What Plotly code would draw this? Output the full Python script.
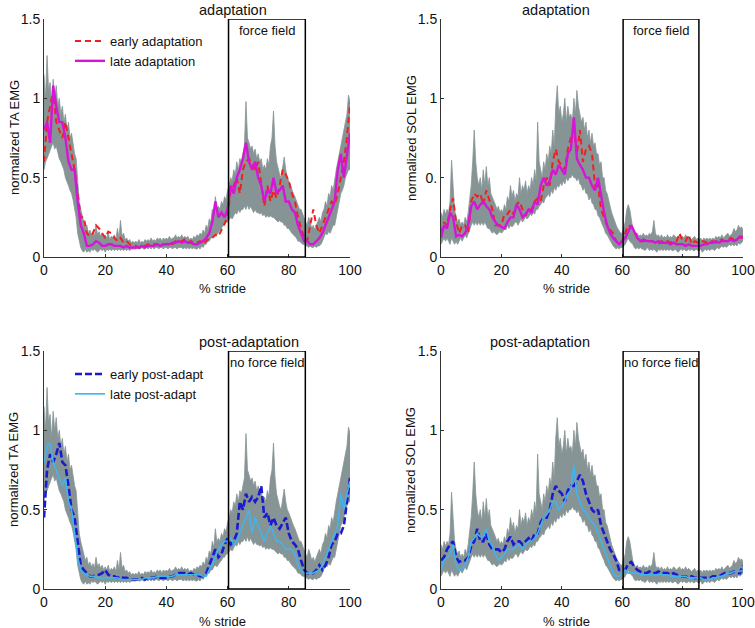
import plotly.graph_objects as go

# ---------------- data ----------------
STRIDE = list(range(0, 101))
STRIDE_FINE = [i / 2 for i in range(201)]

X_TICKS = [0, 20, 40, 60, 80, 100]
Y_TICKS = [0, 0.5, 1, 1.5]
Y_TICKTEXT_LEFT = ["0", "0.5", "1", "1.5"]
Y_TICKTEXT_SOL_ADAPT = ["0", "0.", "1", "1.5"]
Y_TICKTEXT_SOL_POST = ["0", "0.5", "1", "1.5"]

FIELD_START = 60.3
FIELD_END = 85.4

# baseline range (gray band), TA
TA_BAND_UPPER = [
    1.15, 1.0, 1.27, 1.05, 1.1, 0.95, 1.12, 1.0, 1.08, 0.95,
    1.0, 0.9, 0.95, 0.85, 0.9, 0.8, 0.85, 0.75, 0.78, 0.7,
    0.65, 0.62, 0.45, 0.35, 0.3, 0.25, 0.22, 0.18, 0.2, 0.15,
    0.17, 0.14, 0.16, 0.13, 0.2, 0.14, 0.16, 0.13, 0.15, 0.12,
    0.14, 0.12, 0.15, 0.11, 0.13, 0.12, 0.14, 0.11, 0.18, 0.12,
    0.23, 0.13, 0.15, 0.11, 0.12, 0.1, 0.11, 0.09, 0.1, 0.09,
    0.1, 0.09, 0.11, 0.09, 0.1, 0.09, 0.11, 0.1, 0.11, 0.1,
    0.12, 0.1, 0.11, 0.1, 0.12, 0.11, 0.12, 0.1, 0.12, 0.11,
    0.12, 0.11, 0.13, 0.11, 0.12, 0.12, 0.14, 0.12, 0.13, 0.12,
    0.14, 0.12, 0.13, 0.12, 0.13, 0.11, 0.12, 0.11, 0.13, 0.12,
    0.14, 0.13, 0.15, 0.14, 0.17, 0.15, 0.2, 0.18, 0.24, 0.22,
    0.3, 0.26, 0.38, 0.3, 0.32, 0.3, 0.35, 0.33, 0.38, 0.36,
    0.42, 0.45, 0.5, 0.48, 0.55, 0.52, 0.6, 0.55, 0.62, 0.6,
    0.65, 0.7, 0.98, 0.75, 0.72, 0.68, 0.7, 0.65, 0.68, 0.62,
    0.65, 0.6, 0.62, 0.55, 0.58, 0.55, 0.62, 0.58, 0.7, 0.75,
    0.92, 0.7, 0.6, 0.55, 0.52, 0.5, 0.58, 0.63, 0.55, 0.5,
    0.48, 0.45, 0.42, 0.4, 0.38, 0.35, 0.32, 0.3, 0.3, 0.27,
    0.25, 0.22, 0.2, 0.25, 0.22, 0.18, 0.2, 0.17, 0.2, 0.22,
    0.25, 0.22, 0.28, 0.3, 0.35, 0.32, 0.4, 0.38, 0.45, 0.42,
    0.5, 0.55, 0.6, 0.65, 0.7, 0.75, 0.8, 0.85, 0.9, 1.02,
    0.98,
]
TA_BAND_LOWER = [
    0.55, 0.6, 0.62, 0.65, 0.68, 0.7, 0.72, 0.68, 0.7, 0.65,
    0.62, 0.6, 0.58, 0.55, 0.5, 0.48, 0.45, 0.42, 0.4, 0.36,
    0.3, 0.25, 0.15, 0.1, 0.06, 0.04, 0.03, 0.05, 0.03, 0.04,
    0.03, 0.05, 0.04, 0.05, 0.04, 0.03, 0.04, 0.05, 0.04, 0.05,
    0.03, 0.05, 0.04, 0.05, 0.04, 0.05, 0.04, 0.05, 0.04, 0.05,
    0.04, 0.05, 0.04, 0.05, 0.04, 0.05, 0.04, 0.05, 0.05, 0.05,
    0.05, 0.06, 0.05, 0.05, 0.06, 0.05, 0.05, 0.06, 0.05, 0.06,
    0.05, 0.06, 0.05, 0.06, 0.06, 0.05, 0.06, 0.06, 0.05, 0.06,
    0.06, 0.05, 0.06, 0.06, 0.05, 0.06, 0.06, 0.05, 0.06, 0.06,
    0.06, 0.05, 0.06, 0.05, 0.06, 0.05, 0.06, 0.05, 0.06, 0.05,
    0.05, 0.06, 0.05, 0.07, 0.06, 0.08, 0.08, 0.1, 0.1, 0.12,
    0.12, 0.14, 0.15, 0.14, 0.16, 0.17, 0.18, 0.2, 0.2, 0.22,
    0.22, 0.24, 0.25, 0.24, 0.26, 0.28, 0.27, 0.3, 0.28, 0.3,
    0.3, 0.32, 0.3, 0.33, 0.3, 0.32, 0.3, 0.28, 0.3, 0.28,
    0.28, 0.27, 0.28, 0.26, 0.27, 0.25, 0.26, 0.25, 0.26, 0.25,
    0.25, 0.24, 0.23, 0.22, 0.23, 0.22, 0.22, 0.2, 0.2, 0.18,
    0.18, 0.16, 0.15, 0.14, 0.13, 0.12, 0.1, 0.1, 0.09, 0.08,
    0.08, 0.07, 0.07, 0.06, 0.07, 0.06, 0.06, 0.07, 0.06, 0.07,
    0.07, 0.08, 0.1, 0.12, 0.15, 0.14, 0.16, 0.15, 0.18, 0.2,
    0.2, 0.25, 0.3, 0.35, 0.4, 0.42, 0.45, 0.5, 0.52, 0.55,
    0.55,
]

# baseline range (gray band), SOL
SOL_BAND_UPPER = [
    0.28, 0.25, 0.3, 0.27, 0.3, 0.28, 0.35, 0.61, 0.45, 0.3,
    0.25, 0.22, 0.24, 0.2, 0.22, 0.2, 0.25, 0.22, 0.28, 0.35,
    0.45, 0.6, 0.8, 0.6, 0.5, 0.45, 0.5, 0.42, 0.55, 0.45,
    0.57, 0.45, 0.5, 0.4, 0.38, 0.35, 0.33, 0.3, 0.32, 0.28,
    0.3, 0.28, 0.33, 0.3, 0.38, 0.35, 0.45, 0.38, 0.42, 0.35,
    0.4, 0.38, 0.5, 0.4, 0.45, 0.42, 0.48, 0.4, 0.45, 0.42,
    0.5, 0.45, 0.55, 0.48, 0.85, 0.6, 0.55, 0.5, 0.6, 0.55,
    0.65, 0.6, 0.7, 0.65, 0.8, 0.7, 0.95, 1.08, 0.9, 0.95,
    0.85, 0.9, 1.0, 0.85, 0.95, 0.88, 0.9, 0.85, 1.0, 0.9,
    1.05, 0.95, 0.9, 0.85, 0.88, 0.8, 0.85, 0.75, 0.8, 0.72,
    0.78, 0.7, 0.72, 0.65, 0.65, 0.58, 0.6, 0.5, 0.5, 0.42,
    0.4, 0.35, 0.32, 0.28, 0.25, 0.22, 0.2, 0.18, 0.16, 0.15,
    0.15, 0.18, 0.22, 0.3, 0.33, 0.3, 0.22, 0.18, 0.15, 0.14,
    0.15, 0.13, 0.14, 0.13, 0.15, 0.13, 0.14, 0.13, 0.15, 0.14,
    0.16, 0.23, 0.15, 0.13, 0.14, 0.12, 0.14, 0.12, 0.13, 0.12,
    0.14, 0.12, 0.13, 0.12, 0.14, 0.13, 0.12, 0.13, 0.14, 0.12,
    0.13, 0.12, 0.14, 0.12, 0.13, 0.12, 0.11, 0.12, 0.13, 0.11,
    0.12, 0.11, 0.12, 0.1, 0.12, 0.11, 0.12, 0.11, 0.12, 0.11,
    0.12, 0.11, 0.13, 0.12, 0.13, 0.12, 0.14, 0.12, 0.13, 0.14,
    0.15, 0.13, 0.14, 0.15, 0.18, 0.16, 0.17, 0.2, 0.18, 0.19,
    0.17,
]
SOL_BAND_LOWER = [
    0.08, 0.1, 0.12, 0.1, 0.12, 0.1, 0.08, 0.12, 0.1, 0.08,
    0.1, 0.08, 0.1, 0.12, 0.1, 0.12, 0.14, 0.12, 0.15, 0.18,
    0.2, 0.22, 0.2, 0.22, 0.2, 0.22, 0.2, 0.22, 0.2, 0.22,
    0.2, 0.18, 0.18, 0.16, 0.15, 0.16, 0.15, 0.14, 0.15, 0.16,
    0.15, 0.16, 0.18, 0.17, 0.2, 0.18, 0.2, 0.19, 0.2, 0.22,
    0.22, 0.2, 0.22, 0.24, 0.22, 0.24, 0.25, 0.24, 0.25, 0.27,
    0.26, 0.28, 0.27, 0.3, 0.3, 0.32, 0.33, 0.35, 0.34, 0.37,
    0.38, 0.4, 0.38, 0.42, 0.4, 0.44, 0.42, 0.45, 0.44, 0.47,
    0.45, 0.48, 0.46, 0.5, 0.48, 0.5, 0.5, 0.52, 0.5, 0.5,
    0.48, 0.5, 0.46, 0.45, 0.42, 0.44, 0.4, 0.4, 0.36, 0.38,
    0.34, 0.33, 0.3, 0.3, 0.26, 0.25, 0.22, 0.2, 0.18, 0.15,
    0.14, 0.12, 0.1, 0.08, 0.07, 0.06, 0.05, 0.06, 0.05, 0.06,
    0.06, 0.07, 0.08, 0.1, 0.12, 0.1, 0.09, 0.08, 0.06, 0.05,
    0.06, 0.05, 0.06, 0.05, 0.05, 0.04, 0.05, 0.06, 0.04, 0.05,
    0.04, 0.05, 0.04, 0.03, 0.05, 0.04, 0.05, 0.04, 0.05, 0.04,
    0.05, 0.04, 0.05, 0.04, 0.04, 0.05, 0.04, 0.03, 0.04, 0.05,
    0.04, 0.05, 0.04, 0.04, 0.05, 0.04, 0.05, 0.04, 0.04, 0.05,
    0.04, 0.04, 0.05, 0.03, 0.04, 0.05, 0.04, 0.05, 0.04, 0.05,
    0.05, 0.04, 0.05, 0.06, 0.05, 0.06, 0.07, 0.06, 0.07, 0.06,
    0.07, 0.08, 0.07, 0.08, 0.07, 0.08, 0.07, 0.09, 0.08, 0.09,
    0.1,
]

TA_EARLY_ADAPT = [
    0.6, 0.85, 0.95, 1.05, 0.85, 0.8, 0.75, 0.85, 0.75, 0.65,
    0.55, 0.4, 0.25, 0.25, 0.15, 0.13, 0.15, 0.2, 0.18, 0.15,
    0.12, 0.16, 0.15, 0.12, 0.1, 0.12, 0.09, 0.1, 0.08, 0.07,
    0.07, 0.06, 0.07, 0.07, 0.08, 0.07, 0.08, 0.08, 0.07, 0.08,
    0.08, 0.09, 0.08, 0.1, 0.09, 0.1, 0.11, 0.09, 0.1, 0.09,
    0.09, 0.1, 0.08, 0.1, 0.12, 0.12, 0.14, 0.13, 0.17, 0.2,
    0.25, 0.42, 0.45, 0.5, 0.4, 0.55, 0.6, 0.62, 0.58, 0.55,
    0.6, 0.45, 0.32, 0.45, 0.35, 0.42, 0.37, 0.45, 0.55, 0.52,
    0.48, 0.4, 0.35, 0.25, 0.18, 0.12, 0.1, 0.2, 0.3, 0.2,
    0.15, 0.2, 0.25, 0.3, 0.35, 0.33, 0.4, 0.5, 0.6, 0.75, 0.97,
]
TA_LATE_ADAPT = [
    0.8, 0.85, 0.72, 1.08, 0.95, 0.85, 0.85, 0.75, 0.6, 0.55,
    0.55, 0.35, 0.2, 0.15, 0.07, 0.07, 0.08, 0.1, 0.09, 0.07,
    0.07, 0.08, 0.08, 0.07, 0.07, 0.07, 0.06, 0.07, 0.06, 0.06,
    0.06, 0.06, 0.07, 0.06, 0.07, 0.07, 0.07, 0.08, 0.07, 0.08,
    0.08, 0.08, 0.09, 0.09, 0.1, 0.09, 0.1, 0.09, 0.09, 0.08,
    0.08, 0.09, 0.1, 0.12, 0.15, 0.22, 0.35, 0.25, 0.28, 0.25,
    0.3, 0.45, 0.4, 0.5, 0.55, 0.62, 0.72, 0.6, 0.55, 0.6,
    0.5, 0.45, 0.35, 0.42, 0.4, 0.5, 0.4, 0.42, 0.45, 0.35,
    0.35, 0.3, 0.28, 0.2, 0.15, 0.1, 0.1, 0.08, 0.08, 0.1,
    0.12, 0.15, 0.2, 0.25, 0.3, 0.35, 0.55, 0.65, 0.5, 0.65, 0.78,
]
SOL_EARLY_ADAPT = [
    0.15, 0.22, 0.2, 0.3, 0.37, 0.22, 0.15, 0.2, 0.2, 0.15,
    0.35, 0.4, 0.38, 0.4, 0.33, 0.42, 0.36, 0.3, 0.2, 0.2,
    0.2, 0.27, 0.27, 0.3, 0.27, 0.33, 0.35, 0.3, 0.26, 0.3,
    0.3, 0.35, 0.37, 0.35, 0.45, 0.5, 0.45, 0.6, 0.68, 0.6,
    0.58, 0.55, 0.68, 0.75, 0.8, 0.65, 0.8, 0.6, 0.68, 0.7,
    0.65, 0.45, 0.45, 0.3, 0.25, 0.2, 0.17, 0.15, 0.1, 0.08,
    0.1, 0.15, 0.2, 0.19, 0.17, 0.12, 0.1, 0.1, 0.11, 0.1,
    0.1, 0.09, 0.08, 0.1, 0.09, 0.1, 0.09, 0.1, 0.1, 0.15,
    0.1, 0.1, 0.14, 0.08, 0.1, 0.09, 0.1, 0.1, 0.09, 0.1,
    0.1, 0.09, 0.1, 0.11, 0.1, 0.11, 0.12, 0.11, 0.12, 0.12, 0.13,
]
SOL_LATE_ADAPT = [
    0.12, 0.2, 0.18, 0.28, 0.25, 0.13, 0.14, 0.13, 0.15, 0.2,
    0.32, 0.35, 0.3, 0.33, 0.35, 0.32, 0.3, 0.25, 0.22, 0.2,
    0.19, 0.18, 0.22, 0.25, 0.25, 0.33, 0.3, 0.25, 0.27, 0.3,
    0.28, 0.35, 0.33, 0.45, 0.5, 0.45, 0.48, 0.55, 0.52, 0.58,
    0.55, 0.52, 0.65, 0.68, 0.88, 0.62, 0.58, 0.55, 0.5, 0.5,
    0.45, 0.42, 0.5, 0.38, 0.28, 0.2, 0.15, 0.12, 0.1, 0.08,
    0.1, 0.12, 0.16, 0.2, 0.16, 0.12, 0.1, 0.11, 0.1, 0.1,
    0.1, 0.09, 0.1, 0.09, 0.09, 0.09, 0.08, 0.09, 0.08, 0.08,
    0.08, 0.07, 0.08, 0.07, 0.07, 0.07, 0.07, 0.08, 0.08, 0.09,
    0.09, 0.1, 0.09, 0.1, 0.1, 0.1, 0.11, 0.1, 0.11, 0.13, 0.12,
]
TA_EARLY_POST = [
    0.45, 0.75, 0.85, 0.8, 0.85, 0.92, 0.8, 0.78, 0.65, 0.5,
    0.45, 0.3, 0.15, 0.12, 0.1, 0.08, 0.08, 0.09, 0.09, 0.1,
    0.12, 0.09, 0.08, 0.08, 0.07, 0.08, 0.07, 0.07, 0.06, 0.06,
    0.06, 0.06, 0.07, 0.06, 0.07, 0.07, 0.07, 0.08, 0.07, 0.07,
    0.07, 0.08, 0.08, 0.09, 0.1, 0.1, 0.1, 0.09, 0.1, 0.09,
    0.09, 0.08, 0.08, 0.1, 0.15, 0.2, 0.25, 0.2, 0.22, 0.28,
    0.32, 0.28, 0.3, 0.35, 0.55, 0.5, 0.6, 0.55, 0.58, 0.55,
    0.58, 0.65, 0.45, 0.48, 0.4, 0.45, 0.4, 0.38, 0.42, 0.45,
    0.35, 0.3, 0.28, 0.25, 0.18, 0.12, 0.1, 0.1, 0.1, 0.12,
    0.15, 0.12, 0.15, 0.2, 0.28, 0.3, 0.35, 0.35, 0.4, 0.55, 0.7,
]
TA_LATE_POST = [
    0.8, 0.9, 0.92, 0.8, 0.75, 0.7, 0.65, 0.7, 0.55, 0.5,
    0.35, 0.2, 0.12, 0.1, 0.09, 0.08, 0.08, 0.08, 0.07, 0.07,
    0.07, 0.07, 0.07, 0.07, 0.07, 0.06, 0.06, 0.06, 0.06, 0.06,
    0.06, 0.06, 0.06, 0.07, 0.07, 0.07, 0.07, 0.08, 0.08, 0.08,
    0.08, 0.08, 0.08, 0.09, 0.09, 0.09, 0.09, 0.09, 0.09, 0.09,
    0.09, 0.09, 0.08, 0.08, 0.12, 0.15, 0.2, 0.25, 0.28, 0.3,
    0.3, 0.32, 0.28, 0.3, 0.35, 0.4, 0.45, 0.5, 0.35, 0.45,
    0.4, 0.35, 0.3, 0.35, 0.4, 0.35, 0.3, 0.3, 0.28, 0.25,
    0.25, 0.25, 0.22, 0.15, 0.12, 0.1, 0.1, 0.1, 0.1, 0.11,
    0.12, 0.15, 0.2, 0.25, 0.3, 0.35, 0.4, 0.6, 0.5, 0.6, 0.68,
]
SOL_EARLY_POST = [
    0.18, 0.2, 0.25, 0.28, 0.3, 0.2, 0.17, 0.18, 0.18, 0.2,
    0.27, 0.3, 0.38, 0.3, 0.3, 0.35, 0.28, 0.25, 0.25, 0.25,
    0.23, 0.25, 0.3, 0.33, 0.28, 0.3, 0.3, 0.28, 0.3, 0.32,
    0.3, 0.35, 0.35, 0.42, 0.45, 0.45, 0.5, 0.6, 0.65, 0.62,
    0.6, 0.55, 0.62, 0.65, 0.65, 0.68, 0.72, 0.68, 0.6, 0.55,
    0.5, 0.48, 0.5, 0.4, 0.35, 0.3, 0.25, 0.22, 0.18, 0.12,
    0.12, 0.12, 0.16, 0.17, 0.14, 0.12, 0.11, 0.1, 0.1, 0.11,
    0.1, 0.1, 0.11, 0.1, 0.1, 0.1, 0.09, 0.1, 0.09, 0.08,
    0.08, 0.08, 0.07, 0.08, 0.07, 0.07, 0.07, 0.07, 0.07, 0.07,
    0.08, 0.08, 0.08, 0.09, 0.1, 0.1, 0.1, 0.11, 0.1, 0.1, 0.15,
]
SOL_LATE_POST = [
    0.12, 0.18, 0.2, 0.22, 0.28, 0.15, 0.12, 0.13, 0.15, 0.2,
    0.3, 0.32, 0.35, 0.33, 0.33, 0.38, 0.3, 0.27, 0.22, 0.18,
    0.2, 0.22, 0.25, 0.25, 0.25, 0.27, 0.28, 0.25, 0.28, 0.3,
    0.3, 0.32, 0.35, 0.4, 0.45, 0.47, 0.5, 0.55, 0.55, 0.5,
    0.52, 0.55, 0.6, 0.62, 0.78, 0.6, 0.55, 0.5, 0.48, 0.45,
    0.42, 0.4, 0.35, 0.3, 0.25, 0.2, 0.15, 0.1, 0.08, 0.08,
    0.1, 0.12, 0.1, 0.1, 0.1, 0.1, 0.09, 0.09, 0.09, 0.09,
    0.09, 0.09, 0.09, 0.09, 0.09, 0.09, 0.08, 0.08, 0.08, 0.08,
    0.08, 0.08, 0.07, 0.07, 0.07, 0.07, 0.07, 0.06, 0.06, 0.06,
    0.07, 0.07, 0.08, 0.08, 0.09, 0.1, 0.1, 0.11, 0.11, 0.11, 0.12,
]

# ---------------- styling ----------------
W, H = 755, 628
FONT = "Liberation Sans, Arial, Helvetica, sans-serif"
GRAY = "#879495"
RED = "#f02020"
MAGENTA = "#d616d6"
BLUE = "#1a1ad0"
LIGHTBLUE = "#3fb4ee"

# plot areas in window pixels
COL_X = [(44, 350), (441, 743)]
ROW_Y = [(19, 257), (351, 589)]


def px_x(p):
    return p / W


def px_y(p):
    return 1 - p / H


fig = go.Figure()

panels = [
    dict(ax="x", ay="y", col=0, row=0, band=(TA_BAND_LOWER, TA_BAND_UPPER),
         early=TA_EARLY_ADAPT, late=TA_LATE_ADAPT,
         es=dict(color=RED, width=2, dash="6px,4px"), ls=dict(color=MAGENTA, width=2.4),
         names=("early adaptation", "late adaptation"), legend="legend",
         title="adaptation", ylabel="normalized TA EMG", ytt=Y_TICKTEXT_LEFT, box="force field"),
    dict(ax="x2", ay="y2", col=1, row=0, band=(SOL_BAND_LOWER, SOL_BAND_UPPER),
         early=SOL_EARLY_ADAPT, late=SOL_LATE_ADAPT,
         es=dict(color=RED, width=2, dash="6px,4px"), ls=dict(color=MAGENTA, width=2.4),
         names=None, legend=None,
         title="adaptation", ylabel="normalized SOL EMG", ytt=Y_TICKTEXT_SOL_ADAPT, box="force field"),
    dict(ax="x3", ay="y3", col=0, row=1, band=(TA_BAND_LOWER, TA_BAND_UPPER),
         early=TA_EARLY_POST, late=TA_LATE_POST,
         es=dict(color=BLUE, width=2.6, dash="7px,3px"), ls=dict(color=LIGHTBLUE, width=1.6),
         names=("early post-adapt", "late post-adapt"), legend="legend2",
         title="post-adaptation", ylabel="normalized TA EMG", ytt=Y_TICKTEXT_LEFT, box="no force field"),
    dict(ax="x4", ay="y4", col=1, row=1, band=(SOL_BAND_LOWER, SOL_BAND_UPPER),
         early=SOL_EARLY_POST, late=SOL_LATE_POST,
         es=dict(color=BLUE, width=2.6, dash="7px,3px"), ls=dict(color=LIGHTBLUE, width=1.6),
         names=None, legend=None,
         title="post-adaptation", ylabel="normalized SOL EMG", ytt=Y_TICKTEXT_SOL_POST, box="no force field"),
]

annotations = []
shapes = []
layout_axes = {}

for i, p in enumerate(panels):
    lo, hi = p["band"]
    fig.add_trace(go.Scatter(x=STRIDE_FINE, y=lo, xaxis=p["ax"], yaxis=p["ay"], mode="lines",
                             line=dict(color=GRAY, width=0.8), showlegend=False, hoverinfo="skip"))
    fig.add_trace(go.Scatter(x=STRIDE_FINE, y=hi, xaxis=p["ax"], yaxis=p["ay"], mode="lines",
                             fill="tonexty", fillcolor=GRAY,
                             line=dict(color=GRAY, width=0.8), showlegend=False, hoverinfo="skip"))
    show = p["names"] is not None
    fig.add_trace(go.Scatter(x=STRIDE, y=p["early"], xaxis=p["ax"], yaxis=p["ay"], mode="lines",
                             line=p["es"], name=p["names"][0] if show else "",
                             showlegend=show, legend=p["legend"] if show else "legend"))
    fig.add_trace(go.Scatter(x=STRIDE, y=p["late"], xaxis=p["ax"], yaxis=p["ay"], mode="lines",
                             line=p["ls"], name=p["names"][1] if show else "",
                             showlegend=show, legend=p["legend"] if show else "legend"))

    x0, x1 = COL_X[p["col"]]
    y0, y1 = ROW_Y[p["row"]]
    xkey = "xaxis" + ("" if i == 0 else str(i + 1))
    ykey = "yaxis" + ("" if i == 0 else str(i + 1))
    layout_axes[xkey] = dict(
        domain=[px_x(x0), px_x(x1)], anchor=p["ay"], range=[0, 100],
        tickmode="array", tickvals=X_TICKS, ticks="inside", ticklen=3, tickcolor="#333",
        showline=True, linecolor="#333", linewidth=1, showgrid=False, zeroline=False,
        tickfont=dict(size=14, color="#111", family=FONT), automargin=False,
        ticklabeloverflow="allow",
    )
    layout_axes[ykey] = dict(
        domain=[px_y(y1), px_y(y0)], anchor=p["ax"], range=[0, 1.5],
        tickmode="array", tickvals=Y_TICKS, ticktext=p["ytt"], ticks="inside", ticklen=3,
        tickcolor="#333", showline=True, linecolor="#333", linewidth=1, showgrid=False,
        zeroline=False, tickfont=dict(size=14, color="#111", family=FONT), automargin=False,
        ticklabeloverflow="allow",
    )
    # force-field box
    shapes.append(dict(type="rect", xref=p["ax"], yref=p["ay"], x0=FIELD_START, x1=FIELD_END,
                       y0=0, y1=1.5, line=dict(color="black", width=1.5), layer="above"))
    annotations.append(dict(xref=p["ax"], yref=p["ay"], x=(FIELD_START + FIELD_END) / 2, y=1.5,
                            yshift=-11, text=p["box"], showarrow=False,
                            font=dict(size=13, color="#111", family=FONT)))
    # titles
    annotations.append(dict(xref="paper", yref="paper", x=px_x((x0 + x1) / 2), y=px_y(y0 - 9),
                            text=p["title"], showarrow=False, yanchor="middle",
                            font=dict(size=14.5, color="#111", family=FONT)))
    annotations.append(dict(xref="paper", yref="paper", x=px_x((x0 + x1) / 2), y=px_y(y1 + 32),
                            text="% stride", showarrow=False, yanchor="middle",
                            font=dict(size=13, color="#111", family=FONT)))
    annotations.append(dict(xref="paper", yref="paper", x=px_x(x0 - 30), y=px_y((y0 + y1) / 2),
                            text=p["ylabel"], showarrow=False, textangle=-90,
                            xanchor="center", yanchor="middle",
                            font=dict(size=13, color="#111", family=FONT)))

legend_style = dict(xanchor="left", yanchor="top", bgcolor="rgba(0,0,0,0)",
                    font=dict(size=13, family=FONT, color="#111"),
                    tracegroupgap=0, itemwidth=30, traceorder="normal")

fig.update_layout(
    width=W, height=H,
    margin=dict(l=0, r=0, t=0, b=0),
    paper_bgcolor="white", plot_bgcolor="white",
    font=dict(family=FONT, color="#111"),
    shapes=shapes, annotations=annotations,
    legend=dict(x=px_x(70), y=px_y(26), **legend_style),
    legend2=dict(x=px_x(70), y=px_y(359), **legend_style),
    **layout_axes,
)

# remove the default 8px page margin so the figure fills the window exactly
fig.write_html("out.html", config={"displayModeBar": False},
               post_script="document.body.style.margin='0';")
